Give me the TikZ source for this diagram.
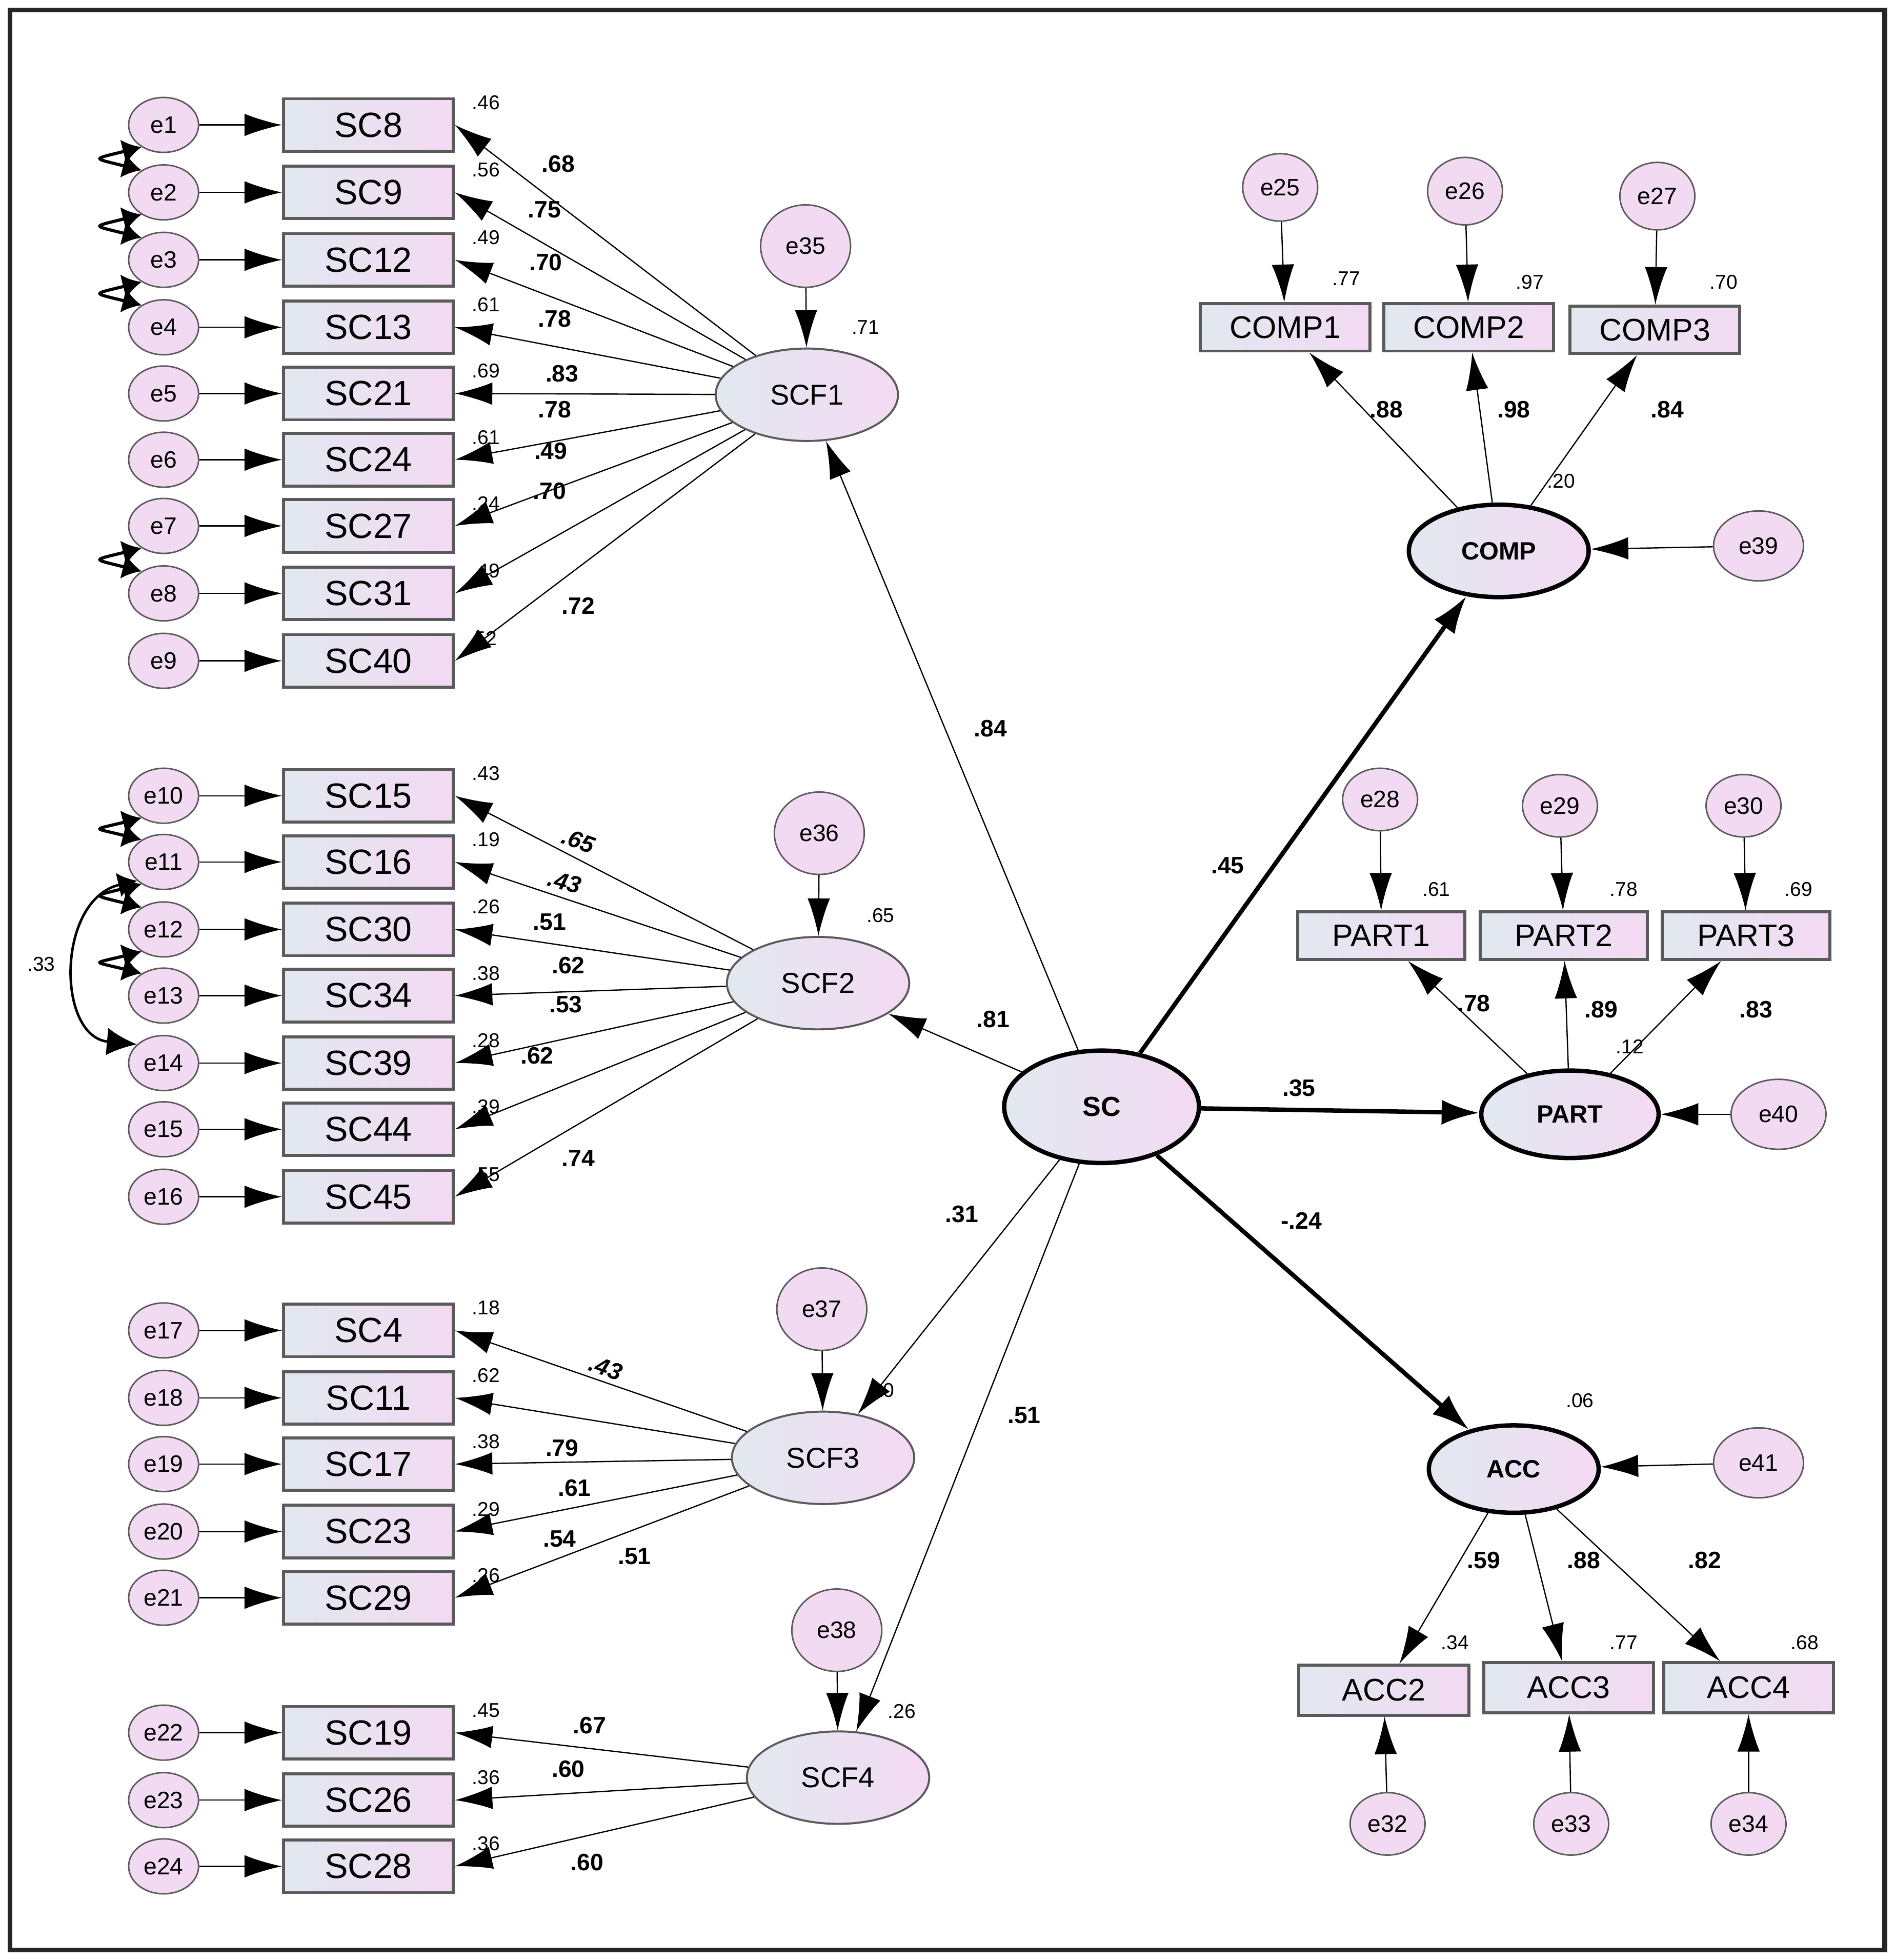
\documentclass[tikz,border=0pt]{standalone}
\usepackage{fontspec}
\setmainfont{Liberation Sans}
\usetikzlibrary{shapes.geometric,arrows.meta}
\definecolor{pinkfill}{RGB}{243,218,243}
\definecolor{bluefill}{RGB}{226,232,240}
\definecolor{edgegray}{RGB}{90,90,90}
\tikzset{
  err/.style={ellipse,draw=edgegray,line width=1.2pt,fill=pinkfill,minimum width=56pt,minimum height=44pt,inner sep=0pt,font=\fontsize{19}{19}\selectfont},
  obs/.style={rectangle,draw=edgegray,line width=2.4pt,left color=bluefill,right color=pinkfill,minimum width=136pt,minimum height=42pt,inner sep=0pt,font=\fontsize{28}{28}\selectfont},
  lat/.style={ellipse,draw=edgegray,line width=1.6pt,left color=bluefill,right color=pinkfill,minimum width=146pt,minimum height=74pt,inner sep=0pt,font=\fontsize{23}{23}\selectfont},
  endo/.style={ellipse,draw=black,line width=3.5pt,left color=bluefill,right color=pinkfill,minimum width=144pt,minimum height=74pt,inner sep=0pt,font=\bfseries\fontsize{20}{20}\selectfont},
  arr/.style={line width=1pt,-{Latex[length=30pt,width=18pt]}},
  thk/.style={line width=3.5pt,-{Latex[length=30pt,width=20pt]}},
  cov/.style={line width=2.5pt,{Latex[length=15pt,width=20pt]}-{Latex[length=15pt,width=20pt]}},
  lbl/.style={font=\bfseries\fontsize{19}{19}\selectfont},
  smc/.style={font=\fontsize{16}{16}\selectfont}
}
\begin{document}
\begin{tikzpicture}[x=1pt,y=-1pt]
\useasboundingbox (0,0) rectangle (1517,1569);
\draw[line width=4pt,draw=black!85] (8,8) rectangle (1509,1561);

% indicators of SCF1..SCF4
\foreach \i/\y/\lab/\r in {1/100/SC8/.46,2/154/SC9/.56,3/208/SC12/.49,4/262/SC13/.61,5/315/SC21/.69,
  6/368/SC24/.61,7/421/SC27/.24,8/475/SC31/.49,9/529/SC40/52,
  10/637/SC15/.43,11/690/SC16/.19,12/744/SC30/.26,13/797/SC34/.38,14/851/SC39/.28,15/904/SC44/.39,16/958/SC45/.55,
  17/1065/SC4/.18,18/1119/SC11/.62,19/1172/SC17/.38,20/1226/SC23/.29,21/1279/SC29/.26,
  22/1387/SC19/.45,23/1441/SC26/.36,24/1494/SC28/.36}{
  \node[err] (e\i) at (131,\y) {e\i};
  \node[obs] (b\i) at (295,\y) {\lab};
  \draw[arr] (e\i) -- (b\i);
  \node[smc] (r\i) at (389,\y-18) {\r};
}

% latent factors and their disturbances
\node[lat] (scf1) at (646,316) {SCF1};
\node[lat] (scf2) at (655,787) {SCF2};
\node[lat] (scf3) at (659,1167) {SCF3};
\node[lat] (scf4) at (671,1423) {SCF4};
\node[err,minimum width=72pt,minimum height=66pt] (e35) at (645,197) {e35};
\node[err,minimum width=72pt,minimum height=66pt] (e36) at (656,667) {e36};
\node[err,minimum width=72pt,minimum height=66pt] (e37) at (658,1048) {e37};
\node[err,minimum width=72pt,minimum height=66pt] (e38) at (670,1305) {e38};
\draw[arr] (e35) -- (scf1);
\draw[arr] (e36) -- (scf2);
\draw[arr] (e37) -- (scf3);
\draw[arr] (e38) -- (scf4);
\node[smc] (r35) at (693,262) {.71};
\node[smc] (r36) at (705,733) {.65};
\node[smc] (r37) at (705,1113) {.10};
\node[smc] (r38) at (722,1370) {.26};

% loadings
\foreach \f/\i/\x/\y/\v in {1/1/447/131/.68,1/2/436/168/.75,1/3/437/210/.70,1/4/444/255/.78,1/5/450/299/.83,
  1/6/444/328/.78,1/7/441/361/.49,1/8/440/393/.70,1/9/463/485/.72,
  2/12/440/738/.51,2/13/455/773/.62,2/14/453/804/.53,2/15/430/845/.62,2/16/463/927/.74,
  3/19/450/1159/.79,3/20/460/1191/.61,3/21/448/1232/.54,
  4/22/472/1381/.67,4/23/455/1416/.60,4/24/470/1491/.60}{
  \draw[arr] (scf\f) -- (b\i.east);
  \node[lbl] at (\x,\y) {\v};
}
\draw[arr] (scf2) -- (b10.east);
\node[lbl,font=\bfseries\itshape\fontsize{19}{19}\selectfont,rotate=-20] at (463,673) {.65};
\draw[arr] (scf2) -- (b11.east);
\node[lbl,font=\bfseries\itshape\fontsize{19}{19}\selectfont,rotate=-15] at (452,706) {.43};
\draw[arr] (scf3) -- (b17.east);
\node[lbl,font=\bfseries\itshape\fontsize{19}{19}\selectfont,rotate=-20] at (485,1095) {.43};
\draw[arr] (scf3) -- (b18.east);
\node[lbl] at (508,1246) {.51};

% error covariances
\foreach \a/\b in {1/2,2/3,3/4,7/8,10/11,11/12,12/13}{
  \draw[cov] (e\a.225) .. controls +(-40,10) and +(-40,-10) .. (e\b.135);
}
\draw[line width=2pt,{Latex[length=15pt,width=20pt]}-{Latex[length=24pt,width=22pt]}]
  (e11.215) .. controls (45,720) and (45,830) .. (e14.145);
\node[smc] at (33,772) {.33};

% SC and outcomes
\node[endo,minimum width=156pt,minimum height=90pt,font=\bfseries\fontsize{22}{22}\selectfont] (sc) at (882,886) {SC};
\draw[arr] (sc) -- (scf1);
\draw[arr] (sc) -- (scf2);
\draw[arr] (sc) -- (scf3);
\draw[arr] (sc) -- (scf4);
\node[lbl] at (793,583) {.84};
\node[lbl] at (795,816) {.81};
\node[lbl] at (770,972) {.31};
\node[lbl] at (820,1133) {.51};

\node[endo] (comp) at (1200,441) {COMP};
\node[endo,minimum width=142pt,minimum height=70pt] (part) at (1257,892) {PART};
\node[endo,minimum width=136pt,minimum height=70pt] (acc) at (1212,1176) {ACC};
\draw[thk] (sc) -- (comp);
\draw[thk] (sc) -- (part);
\draw[thk] (sc) -- (acc);
\node[lbl] at (983,693) {.45};
\node[lbl] at (1040,871) {.35};
\node[lbl] at (1042,977) {-.24};

\node[err,minimum width=72pt,minimum height=56pt] (e39) at (1408,437) {e39};
\node[err,minimum width=76pt,minimum height=56pt] (e40) at (1424,892) {e40};
\node[err,minimum width=72pt,minimum height=56pt] (e41) at (1408,1171) {e41};
\draw[arr] (e39) -- (comp);
\draw[arr] (e40) -- (part);
\draw[arr] (e41) -- (acc);
\node[smc] at (1250,385) {.20};
\node[smc] at (1305,838) {.12};
\node[smc] at (1265,1121) {.06};

% COMP indicators
\foreach \n/\x/\y/\ex/\ey/\e/\r/\rx/\ry/\v/\vx in {
  1/1029/262/1025/150/25/.77/1078/223/.88/1110,
  2/1176/262/1173/153/26/.97/1225/226/.98/1212,
  3/1325/264/1327/157/27/.70/1380/226/.84/1335}{
  \node[obs,minimum width=136pt,minimum height=38pt,font=\fontsize{25}{25}\selectfont] (comp\n) at (\x,\y) {COMP\n};
  \node[err,minimum width=60pt,minimum height=54pt] (e\e) at (\ex,\ey) {e\e};
  \draw[arr] (e\e) -- (comp\n);
  \draw[arr] (comp) -- (comp\n);
  \node[smc] at (\rx,\ry) {\r};
  \node[lbl] at (\vx,328) {\v};
}

% PART indicators
\foreach \n/\x/\ex/\ey/\e/\r/\rx/\v/\vx/\vy in {
  1/1106/1105/640/28/.61/1150/.78/1180/803,
  2/1252/1249/645/29/.78/1300/.89/1282/808,
  3/1398/1396/645/30/.69/1440/.83/1406/808}{
  \node[obs,minimum width=134pt,minimum height=38pt,font=\fontsize{25}{25}\selectfont] (part\n) at (\x,749) {PART\n};
  \node[err,minimum width=60pt,minimum height=50pt] (e\e) at (\ex,\ey) {e\e};
  \draw[arr] (e\e) -- (part\n);
  \draw[arr] (part) -- (part\n);
  \node[smc] at (\rx,712) {\r};
  \node[lbl] at (\vx,\vy) {\v};
}

% ACC indicators
\foreach \n/\x/\y/\ex/\e/\r/\rx/\v/\vx in {
  2/1108/1353/1111/32/.34/1165/.59/1188,
  3/1256/1351/1258/33/.77/1300/.88/1268,
  4/1400/1351/1400/34/.68/1445/.82/1365}{
  \node[obs,minimum width=136pt,minimum height=40pt,font=\fontsize{25}{25}\selectfont] (acc\n) at (\x,\y) {ACC\n};
  \node[err,minimum width=60pt,minimum height=50pt] (e\e) at (\ex,1460) {e\e};
  \draw[arr] (e\e) -- (acc\n);
  \draw[arr] (acc) -- (acc\n);
  \node[smc] at (\rx,1315) {\r};
  \node[lbl] at (\vx,1249) {\v};
}
\end{tikzpicture}
\end{document}
